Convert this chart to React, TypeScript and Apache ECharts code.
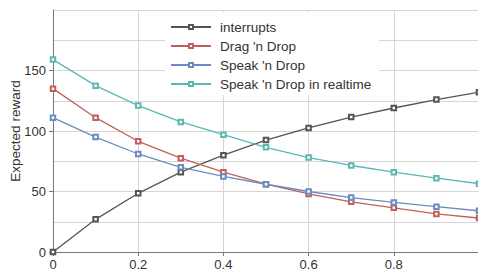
import React, { useEffect, useRef } from "react";
import * as echarts from "echarts";

const xValues = [0, 0.1, 0.2, 0.3, 0.4, 0.5, 0.6, 0.7, 0.8, 0.9, 1.0];
const interrupts = [0, 27, 48.5, 66, 80, 92.5, 102.5, 111.5, 119, 126, 132];
const dragNDrop = [135, 111, 91.5, 77.5, 66, 56, 48, 41.5, 36.5, 31.5, 28];
const speakNDrop = [111, 95, 81, 70, 62.5, 56, 50, 45, 41, 37.5, 34];
const speakRealtime = [159, 137.5, 121, 107.5, 97, 86.5, 78, 71.5, 66, 61, 56.5];

const seriesNames = ["interrupts", "Drag 'n Drop", "Speak 'n Drop", "Speak 'n Drop in realtime"];
const seriesColors = ["#555555", "#c0605c", "#6b8cc0", "#5bb8b4"];
const seriesData = [interrupts, dragNDrop, speakNDrop, speakRealtime];

export default function App() {
  const ref = useRef<HTMLDivElement>(null);
  useEffect(() => {
    if (!ref.current) return;
    const chart = echarts.init(ref.current, undefined, { renderer: "svg" });
    const font = "Liberation Sans, Arial, sans-serif";
    chart.setOption({
      animation: false,
      textStyle: { fontFamily: font },
      grid: { left: 53, right: -1, top: 10, bottom: 21, show: false, containLabel: false, outerBoundsMode: "none" },
      legend: {
        orient: "vertical",
        left: 165,
        top: 12,
        padding: [8, 8, 4, 5],
        itemWidth: 40,
        itemHeight: 5,
        itemGap: 5,
        backgroundColor: "#ffffff",
        textStyle: { fontSize: 13.5, color: "#333", fontFamily: font, padding: [0, 0, 0, 4] },
        data: seriesNames,
      },
      xAxis: {
        type: "value",
        min: 0,
        max: 1,
        interval: 0.2,
        axisLine: { show: true, lineStyle: { color: "#777" } },
        axisTick: { show: true, length: 4, lineStyle: { color: "#777" } },
        axisLabel: {
          showMaxLabel: false,
          fontSize: 13,
          color: "#333",
          margin: 6,
          fontFamily: font,
        },
        splitLine: { show: true, lineStyle: { color: "#d6d6d6" } },
      },
      yAxis: {
        type: "value",
        min: 0,
        max: 200,
        interval: 50,
        name: "Expected reward",
        nameLocation: "middle",
        nameGap: 31,
        nameMoveOverlap: false,
        nameTextStyle: { fontSize: 13.5, color: "#333", fontFamily: font },
        axisLine: { show: true, lineStyle: { color: "#777" } },
        axisTick: { show: true, length: 4, lineStyle: { color: "#777" } },
        axisLabel: {
          showMaxLabel: false,
          fontSize: 13,
          color: "#333",
          margin: 7,
          fontFamily: font,
        },
        splitLine: { show: true, lineStyle: { color: "#d6d6d6" } },
        minorTick: { show: false, splitNumber: 2 },
        minorSplitLine: { show: true, lineStyle: { color: "#d6d6d6" } },
      },
      series: seriesNames.map((name, i) => ({
        name,
        type: "line",
        data: xValues.map((x, j) => [x, seriesData[i][j]]),
        symbol: "emptyRect",
        symbolSize: 4.5,
        showAllSymbol: true,
        lineStyle: { color: seriesColors[i], width: 1.3 },
        itemStyle: { color: seriesColors[i], borderWidth: 1 },
        z: 3,
      })),
    });
    return () => chart.dispose();
  }, []);
  return <div ref={ref} style={{ width: 478, height: 273, position: "absolute", left: 0, top: 0 }} />;
}
